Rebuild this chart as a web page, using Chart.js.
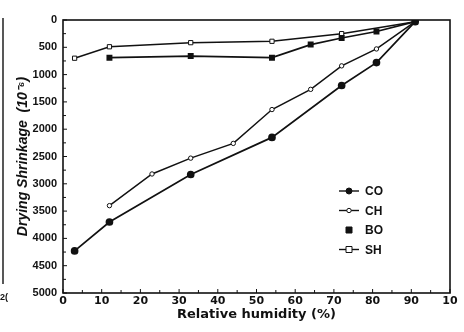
<!DOCTYPE html>
<html>
<head>
<meta charset="utf-8">
<script src="https://cdn.jsdelivr.net/npm/chart.js@4"></script>
<style>
  html,body{margin:0;padding:0;background:#fff}
  #wrap{width:464px;height:332px;position:relative}
</style>
</head>
<body>
<div id="wrap"><canvas id="c" width="464" height="332"></canvas></div>
<script>
// Relative humidity (%) and drying shrinkage (10^-6)
const seriesNames = ['CO', 'CH', 'BO', 'SH'];
const coRH = [3, 12, 33, 54, 72, 81, 91];
const coShrink = [4230, 3700, 2830, 2150, 1200, 780, 30];
const chRH = [12, 23, 33, 44, 54, 64, 72, 81, 91];
const chShrink = [3400, 2820, 2530, 2260, 1640, 1270, 840, 530, 30];
const boRH = [12, 33, 54, 64, 72, 81, 91];
const boShrink = [690, 660, 690, 450, 330, 210, 30];
const shRH = [3, 12, 33, 54, 72, 91];
const shShrink = [700, 490, 415, 390, 250, 30];
const xTicks = [0, 10, 20, 30, 40, 50, 60, 70, 80, 90, 100];
const yTicks = [0, 500, 1000, 1500, 2000, 2500, 3000, 3500, 4000, 4500, 5000];

function pts(xs, ys){ return xs.map((x,i)=>({x:x, y:ys[i]})); }

const ink = '#111';
const FONT = '"Liberation Sans", Arial, sans-serif';
const WIDE = '"DejaVu Sans", Verdana, sans-serif';

// inward tick marks, frame, legend and the stray edge of the neighbouring figure
const decor = {
  id: 'decor',
  afterDraw(chart){
    const ctx = chart.ctx, a = chart.chartArea;
    const xs = chart.scales.x, ys = chart.scales.y;
    ctx.save();
    ctx.strokeStyle = ink;
    ctx.lineWidth = 1.6;
    ctx.strokeRect(a.left, a.top, a.right - a.left, a.bottom - a.top);
    ctx.lineWidth = 1;
    for(let v=0; v<=100; v+=5){
      const p = xs.getPixelForValue(v);
      ctx.beginPath(); ctx.moveTo(p, a.bottom); ctx.lineTo(p, a.bottom - (v%10===0?4:3)); ctx.stroke();
    }
    for(let v=0; v<=5000; v+=250){
      const p = ys.getPixelForValue(v);
      ctx.beginPath(); ctx.moveTo(a.left, p); ctx.lineTo(a.left + (v%500===0?4:3), p); ctx.stroke();
    }
    // legend (BO is shown as a bare marker in the original)
    const lx = a.left + 276, ly = a.top + 171, gap = 19.5;
    chart.data.datasets.forEach((ds, i) => {
      const y = ly + i*gap;
      if(ds.label !== 'BO'){
        ctx.strokeStyle = ink; ctx.lineWidth = 1.4;
        ctx.beginPath(); ctx.moveTo(lx, y); ctx.lineTo(lx + 20, y); ctx.stroke();
      }
      drawMarker(ctx, ds.pointStyle, lx + 10, y, ds.pointRadius, ds.pointBackgroundColor);
      ctx.fillStyle = ink;
      ctx.font = 'bold 12px ' + FONT;
      ctx.textBaseline = 'middle';
      ctx.fillText(ds.label, lx + 26, y + 1);
    });
    // cut-off neighbouring panel at the left edge
    ctx.strokeStyle = ink; ctx.lineWidth = 1.4;
    ctx.beginPath(); ctx.moveTo(3, 18); ctx.lineTo(3, 284); ctx.stroke();
    ctx.fillStyle = ink;
    ctx.font = 'bold 9px ' + FONT;
    ctx.textBaseline = 'middle';
    ctx.fillText('2(', 0, 298);
    ctx.restore();
  }
};

function drawMarker(ctx, style, x, y, r, fill){
  ctx.save();
  ctx.strokeStyle = ink; ctx.fillStyle = fill; ctx.lineWidth = 1;
  ctx.beginPath();
  if(style === 'rect'){ ctx.rect(x - r, y - r, 2*r, 2*r); }
  else { ctx.arc(x, y, r, 0, Math.PI*2); }
  ctx.fill();
  ctx.stroke();
  ctx.restore();
}

new Chart(document.getElementById('c'), {
  type: 'scatter',
  data: {
    datasets: [
      {label: seriesNames[0], data: pts(coRH, coShrink), showLine: true, borderColor: ink, borderWidth: 1.7,
       pointStyle: 'circle', pointRadius: 3, pointBackgroundColor: ink, pointBorderColor: ink},
      {label: seriesNames[1], data: pts(chRH, chShrink), showLine: true, borderColor: ink, borderWidth: 1.5,
       pointStyle: 'circle', pointRadius: 2.2, pointBackgroundColor: '#fff', pointBorderColor: ink, pointBorderWidth: 1},
      {label: seriesNames[2], data: pts(boRH, boShrink), showLine: true, borderColor: ink, borderWidth: 1.7,
       pointStyle: 'rect', pointRadius: 3, pointBackgroundColor: ink, pointBorderColor: ink},
      {label: seriesNames[3], data: pts(shRH, shShrink), showLine: true, borderColor: ink, borderWidth: 1.5,
       pointStyle: 'rect', pointRadius: 3, pointBackgroundColor: '#fff', pointBorderColor: ink, pointBorderWidth: 1}
    ]
  },
  options: {
    responsive: false,
    animation: false,
    layout: {padding: {left: 15, top: 20, right: 14, bottom: 10}},
    plugins: {legend: {display: false}, tooltip: {enabled: false}},
    scales: {
      x: {
        type: 'linear', min: 0, max: 100,
        afterBuildTicks: s => { s.ticks = xTicks.map(v => ({value: v})); },
        afterFit: s => { s.height = 29; },
        grid: {display: false, drawTicks: false},
        border: {display: false},
        ticks: {color: ink, font: {family: WIDE, weight: 'bold', size: 11}, padding: 2, maxRotation: 0,
                callback: v => v === 100 ? '10' : String(v)},
        title: {display: true, text: 'Relative humidity (%)', color: ink, padding: {top: 0, bottom: 0},
                font: {family: WIDE, weight: 'bold', size: 13}}
      },
      y: {
        type: 'linear', reverse: true, min: 0, max: 5000,
        afterBuildTicks: s => { s.ticks = yTicks.map(v => ({value: v})); },
        afterFit: s => { s.width = 48; },
        grid: {display: false, drawTicks: false},
        border: {display: false},
        ticks: {color: ink, font: {family: FONT, weight: 'bold', size: 11}, padding: 6,
                callback: v => String(v)},
        title: {display: true, text: 'Drying Shrinkage  (10\u207B\u2076)', color: ink, padding: {top: 0, bottom: 0},
                font: {family: FONT, weight: 'bold', style: 'italic', size: 14}}
      }
    }
  },
  plugins: [decor]
});
</script>
</body>
</html>
